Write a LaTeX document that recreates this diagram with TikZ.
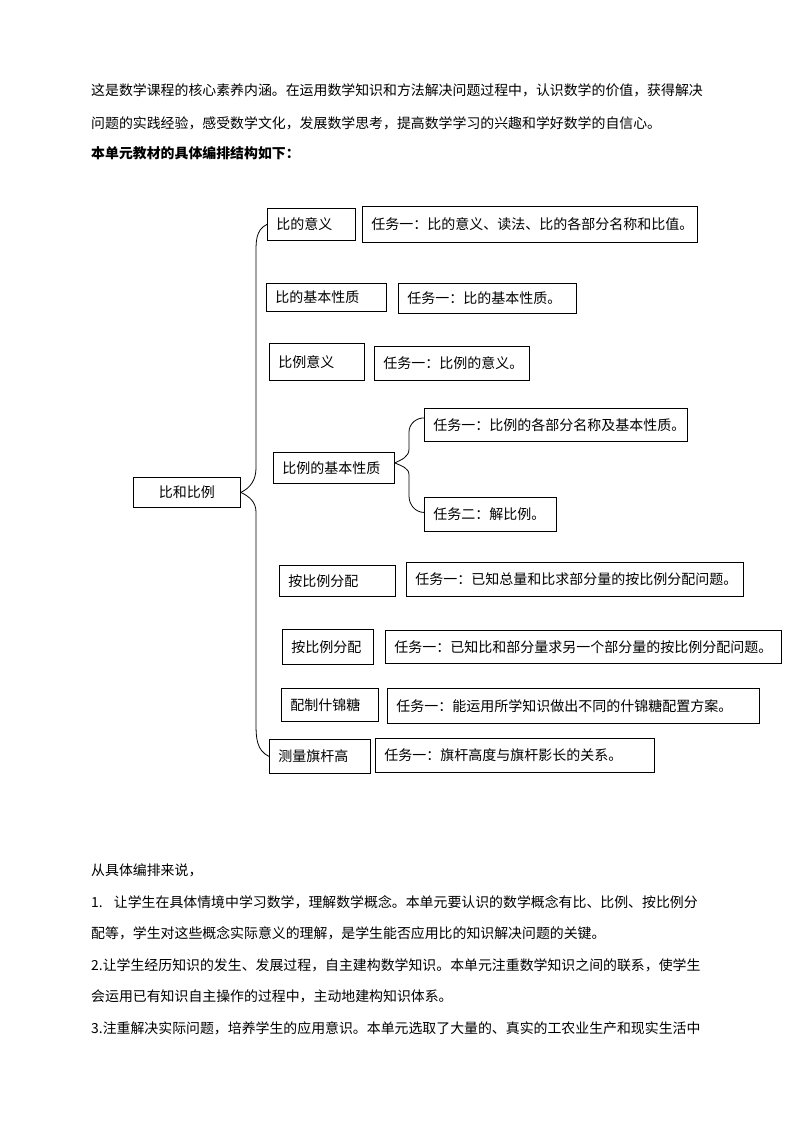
\documentclass[tikz,border=0pt]{standalone}
\usepackage{fontspec}
\newfontfamily\cjk{Noto Sans CJK SC}
\usetikzlibrary{calc}
\tikzset{box/.style={draw, line width=0.8pt, anchor=north west, inner xsep=9pt,
    inner ysep=0pt, align=left, font=\cjk\fontsize{14}{16}\selectfont}}
\tikzset{line/.style={anchor=west, inner sep=0pt,
    font=\cjk\fontsize{13.9}{16}\selectfont}}
\tikzset{brace/.style={draw, line width=0.8pt}}

\begin{document}
\begin{tikzpicture}[x=1pt, y=-1pt]
  \useasboundingbox[fill=white] (0,0) rectangle (794,1123);
  % text before the chart
  \node[line] (p1) at (91,90) {这是数学课程的核心素养内涵。在运用数学知识和方法解决问题过程中，认识数学的价值，获得解决};
  \node[line] (p2) at (91,123) {问题的实践经验，感受数学文化，发展数学思考，提高数学学习的兴趣和学好数学的自信心。};
  \node[line] (p3) at (91,153) {\bfseries 本单元教材的具体编排结构如下：};
  % the chart
  \node[box, align=center, minimum width=107pt, minimum height=30pt] (root)
    at (133,477) {比和比例};
  \foreach \name/\x/\y/\w/\h/\txt in {
      yiyi/267/208/88/32/比的意义,
      t1/362/206/335/36/任务一：比的意义、读法、比的各部分名称和比值。,
      xingzhi/266/283/120/28/比的基本性质,
      t2/398/283/178/30/任务一：比的基本性质。,
      liyiyi/269/343/95/37/比例意义,
      t3/374/346/155/34/任务一：比例的意义。,
      lixingzhi/273/452/121/31/比例的基本性质,
      t4/424/408/263/33/任务一：比例的各部分名称及基本性质。,
      t5/424/497/132/34/任务二：解比例。,
      fenpei/279/565/116/31/按比例分配,
      t6/406/562/337/34/任务一：已知总量和比求部分量的按比例分配问题。,
      fenpeib/282/629/91/35/按比例分配,
      t7/385/630/396/33/任务一：已知比和部分量求另一个部分量的按比例分配问题。,
      peizhi/281/688/97/33/配制什锦糖,
      t8/387/688/372/35/任务一：能运用所学知识做出不同的什锦糖配置方案。,
      celiang/269/739/101/34/测量旗杆高,
      t9/375/738/279/34/任务一：旗杆高度与旗杆影长的关系。}
  {
    \pgfmathsetmacro{\tw}{\w-18}
    \node[box, text width=\tw pt, minimum height=\h pt] (\name) at (\x,\y) {\txt};
  }
  % big brace
  \coordinate (bupper) at (256,256);
  \coordinate (bmidup) at (256,468);
  \coordinate (bmiddn) at (256,512);
  \coordinate (blower) at (256,724);
  \draw[brace] (root.east) to[out=25,in=-90] (bmidup) -- (bupper)
    to[out=90,in=205] (yiyi.west);
  \draw[brace] (root.east) to[out=-25,in=90] (bmiddn) -- (blower)
    to[out=-90,in=155] (celiang.west);
  % small brace
  \coordinate (supper) at (409,432);
  \coordinate (smidup) at (409,449);
  \coordinate (smiddn) at (409,475);
  \coordinate (slower) at (409,496);
  \draw[brace] ([yshift=5pt]lixingzhi.east) to[out=25,in=-90] (smidup) -- (supper)
    to[out=90,in=180] ([yshift=7pt]t4.west);
  \draw[brace] ([yshift=5pt]lixingzhi.east) to[out=-25,in=90] (smiddn) -- (slower)
    to[out=-90,in=180] ([yshift=2pt]t5.west);
  % text after the chart
  \node[line] (q1) at (91,870) {从具体编排来说，};
  \node[line] (q2) at (91,902) {1.\hspace{0.8em}让学生在具体情境中学习数学，理解数学概念。本单元要认识的数学概念有比、比例、按比例分};
  \node[line] (q3) at (91,933) {配等，学生对这些概念实际意义的理解，是学生能否应用比的知识解决问题的关键。};
  \node[line] (q4) at (91,965) {2.让学生经历知识的发生、发展过程，自主建构数学知识。本单元注重数学知识之间的联系，使学生};
  \node[line] (q5) at (91,996) {会运用已有知识自主操作的过程中，主动地建构知识体系。};
  \node[line] (q6) at (91,1028) {3.注重解决实际问题，培养学生的应用意识。本单元选取了大量的、真实的工农业生产和现实生活中};
\end{tikzpicture}
\end{document}
